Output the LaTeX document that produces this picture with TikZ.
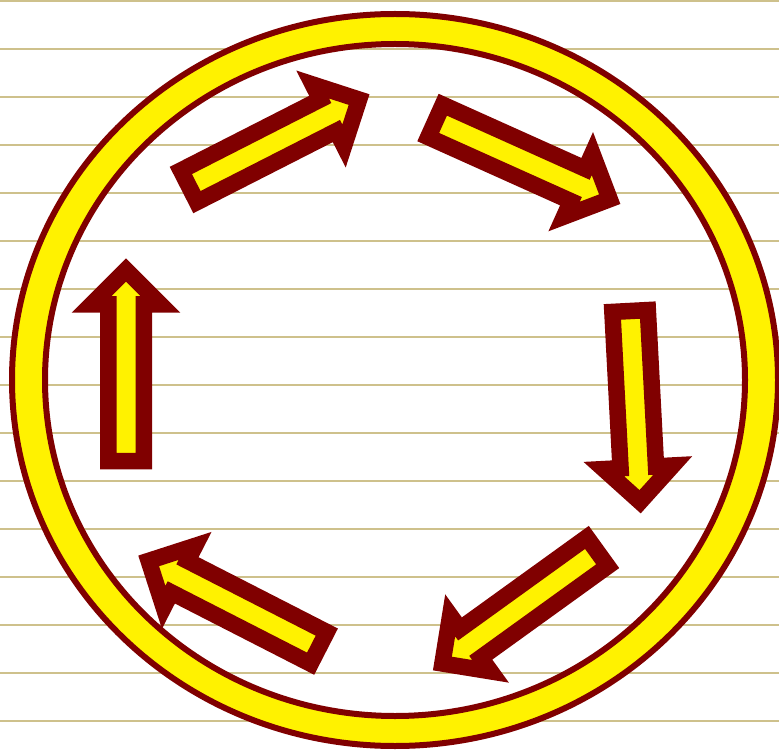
\documentclass[tikz,border=0pt]{standalone}
\usepackage{tikz}
\usetikzlibrary{positioning}

\definecolor{maroon}{RGB}{128,0,0}
\definecolor{paper}{RGB}{206,193,140}

\tikzset{
    ring/.style={draw=maroon, line width=6pt, fill=yellow, even odd rule},
    arrowline/.style={draw=maroon, line width=16.5pt, fill=yellow, line join=miter, miter limit=10},
    pics/blockarrow/.style={code={
        \draw[arrowline] (0,-17.75) -- (156.5,-17.75) -- (156.5,-34.5) -- (191,0)
            -- (156.5,34.5) -- (156.5,17.75) -- (0,17.75) -- cycle;
    }}
}

\begin{document}
\begin{tikzpicture}[x=1pt, y=-1pt]
    \useasboundingbox (0,0) rectangle (779,751);
    \foreach \y in {1,49,...,721}
        \draw[paper, line width=2pt] (0,\y) -- (779,\y);

    \draw[ring] (395,380) ellipse [x radius=383, y radius=366]
                (395,380) ellipse [x radius=350, y radius=336];

    % tails of the six arrows
    \coordinate (left)   at (126,461);
    \coordinate (topl)   at (188.9,186.3);
    \coordinate (topr)   at (435.5,120.9);
    \coordinate (right)  at (630.1,311);
    \coordinate (botr)   at (597.3,551.8);
    \coordinate (botl)   at (318.7,647.9);

    \pic[rotate=90]     at (left)  {blockarrow};
    \pic[rotate=27]     at (topl)  {blockarrow};
    \pic[rotate=-24.2]  at (topr)  {blockarrow};
    \pic[rotate=-87]    at (right) {blockarrow};
    \pic[rotate=-144.2] at (botr)  {blockarrow};
    \pic[rotate=152.9]  at (botl)  {blockarrow};
\end{tikzpicture}
\end{document}
